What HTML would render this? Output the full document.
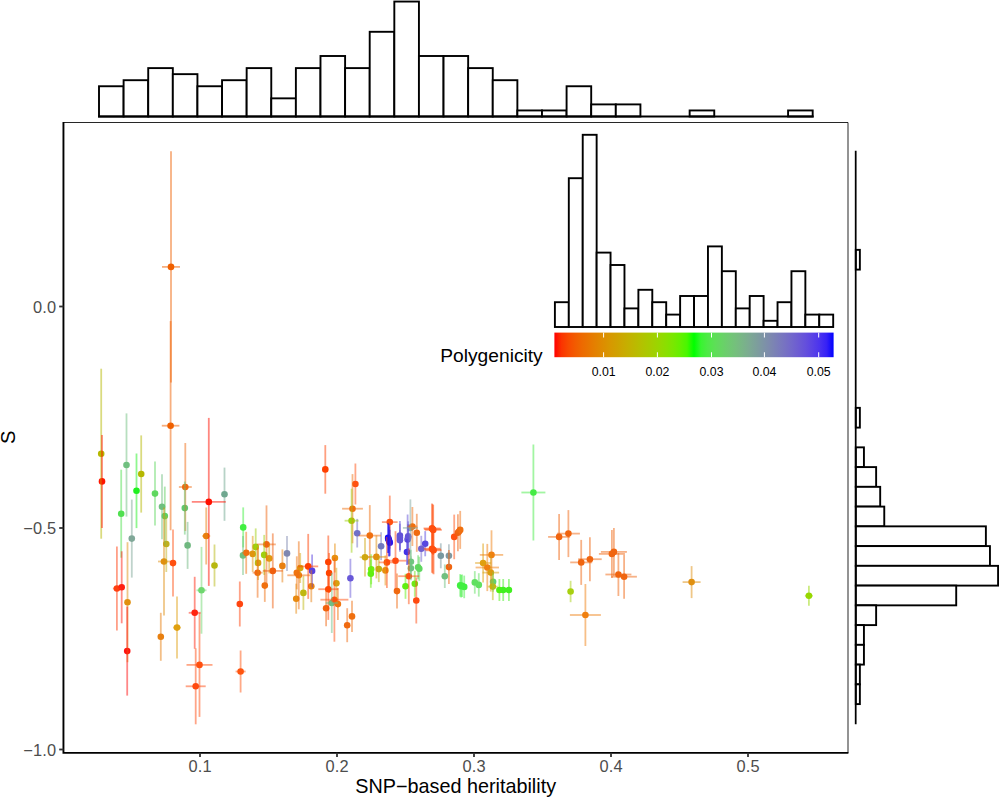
<!DOCTYPE html>
<html><head><meta charset="utf-8"><title>S vs SNP-based heritability</title>
<style>
html,body{margin:0;padding:0;background:#fff;}
body{width:999px;height:798px;overflow:hidden;}
svg{display:block;}
svg text{font-family:"Liberation Sans",sans-serif;}
</style></head><body>
<svg width="999" height="798" viewBox="0 0 999 798">
<defs><linearGradient id="cb" x1="0" x2="1" y1="0" y2="0">
<stop offset="0.00%" stop-color="#FF0000"/>
<stop offset="2.50%" stop-color="#FB3300"/>
<stop offset="5.00%" stop-color="#F74A00"/>
<stop offset="7.50%" stop-color="#F25B00"/>
<stop offset="10.00%" stop-color="#ED6A00"/>
<stop offset="12.50%" stop-color="#E87600"/>
<stop offset="15.00%" stop-color="#E38200"/>
<stop offset="17.50%" stop-color="#DD8D00"/>
<stop offset="20.00%" stop-color="#D79800"/>
<stop offset="22.50%" stop-color="#D0A100"/>
<stop offset="25.00%" stop-color="#C9AB00"/>
<stop offset="27.50%" stop-color="#C1B400"/>
<stop offset="30.00%" stop-color="#B8BD00"/>
<stop offset="32.50%" stop-color="#AEC600"/>
<stop offset="35.00%" stop-color="#A4CE00"/>
<stop offset="37.50%" stop-color="#98D700"/>
<stop offset="40.00%" stop-color="#8ADF00"/>
<stop offset="42.50%" stop-color="#7AE700"/>
<stop offset="45.00%" stop-color="#65EF00"/>
<stop offset="47.50%" stop-color="#49F700"/>
<stop offset="50.00%" stop-color="#00FF00"/>
<stop offset="52.50%" stop-color="#39F431"/>
<stop offset="55.00%" stop-color="#4FE947"/>
<stop offset="57.50%" stop-color="#5DDF57"/>
<stop offset="60.00%" stop-color="#67D465"/>
<stop offset="62.50%" stop-color="#6FC972"/>
<stop offset="65.00%" stop-color="#75BF7D"/>
<stop offset="67.50%" stop-color="#79B488"/>
<stop offset="70.00%" stop-color="#7CA993"/>
<stop offset="72.50%" stop-color="#7D9E9C"/>
<stop offset="75.00%" stop-color="#7D93A6"/>
<stop offset="77.50%" stop-color="#7D88AF"/>
<stop offset="80.00%" stop-color="#7A7DB9"/>
<stop offset="82.50%" stop-color="#7772C2"/>
<stop offset="85.00%" stop-color="#7267CB"/>
<stop offset="87.50%" stop-color="#6C5BD3"/>
<stop offset="90.00%" stop-color="#644FDC"/>
<stop offset="92.50%" stop-color="#5941E5"/>
<stop offset="95.00%" stop-color="#4B33EE"/>
<stop offset="97.50%" stop-color="#3621F6"/>
<stop offset="100.00%" stop-color="#0000FF"/>
</linearGradient></defs>
<rect width="999" height="798" fill="#fff"/>
<g fill="#fff" stroke="#000" stroke-width="1.9" stroke-linejoin="miter">
<rect x="99.00" y="86.25" width="24.61" height="30.25"/>
<rect x="123.61" y="80.20" width="24.61" height="36.30"/>
<rect x="148.22" y="68.10" width="24.61" height="48.40"/>
<rect x="172.83" y="74.15" width="24.61" height="42.35"/>
<rect x="197.44" y="86.25" width="24.61" height="30.25"/>
<rect x="222.05" y="80.20" width="24.61" height="36.30"/>
<rect x="246.66" y="68.10" width="24.61" height="48.40"/>
<rect x="271.27" y="98.35" width="24.61" height="18.15"/>
<rect x="295.88" y="68.10" width="24.61" height="48.40"/>
<rect x="320.49" y="56.00" width="24.61" height="60.50"/>
<rect x="345.10" y="68.10" width="24.61" height="48.40"/>
<rect x="369.71" y="31.80" width="24.61" height="84.70"/>
<rect x="394.32" y="1.55" width="24.61" height="114.95"/>
<rect x="418.93" y="56.00" width="24.61" height="60.50"/>
<rect x="443.54" y="56.00" width="24.61" height="60.50"/>
<rect x="468.15" y="68.10" width="24.61" height="48.40"/>
<rect x="492.76" y="80.20" width="24.61" height="36.30"/>
<rect x="517.37" y="110.45" width="24.61" height="6.05"/>
<rect x="541.98" y="110.45" width="24.61" height="6.05"/>
<rect x="566.59" y="86.25" width="24.61" height="30.25"/>
<rect x="591.20" y="104.40" width="24.61" height="12.10"/>
<rect x="615.81" y="104.40" width="24.61" height="12.10"/>
<rect x="640.42" y="116.50" width="24.61" height="0.00"/>
<rect x="665.03" y="116.50" width="24.61" height="0.00"/>
<rect x="689.64" y="110.45" width="24.61" height="6.05"/>
<rect x="714.25" y="116.50" width="24.61" height="0.00"/>
<rect x="738.86" y="116.50" width="24.61" height="0.00"/>
<rect x="763.47" y="116.50" width="24.61" height="0.00"/>
<rect x="788.08" y="110.45" width="24.61" height="6.05"/>
<path d="M98.05 116.5H813.64"/>
</g>
<g fill="#fff" stroke="#000" stroke-width="1.9">
<rect x="855.80" y="151.10" width="0.00" height="19.75"/>
<rect x="855.80" y="170.85" width="0.00" height="19.75"/>
<rect x="855.80" y="190.60" width="0.00" height="19.75"/>
<rect x="855.80" y="210.35" width="0.00" height="19.75"/>
<rect x="855.80" y="230.10" width="0.00" height="19.75"/>
<rect x="855.80" y="249.85" width="4.07" height="19.75"/>
<rect x="855.80" y="269.60" width="0.00" height="19.75"/>
<rect x="855.80" y="289.35" width="0.00" height="19.75"/>
<rect x="855.80" y="309.10" width="0.00" height="19.75"/>
<rect x="855.80" y="328.85" width="0.00" height="19.75"/>
<rect x="855.80" y="348.60" width="0.00" height="19.75"/>
<rect x="855.80" y="368.35" width="0.00" height="19.75"/>
<rect x="855.80" y="388.10" width="0.00" height="19.75"/>
<rect x="855.80" y="407.85" width="4.07" height="19.75"/>
<rect x="855.80" y="427.60" width="0.00" height="19.75"/>
<rect x="855.80" y="447.35" width="8.13" height="19.75"/>
<rect x="855.80" y="467.10" width="20.33" height="19.75"/>
<rect x="855.80" y="486.85" width="24.39" height="19.75"/>
<rect x="855.80" y="506.60" width="28.46" height="19.75"/>
<rect x="855.80" y="526.35" width="130.08" height="19.75"/>
<rect x="855.80" y="546.10" width="134.15" height="19.75"/>
<rect x="855.80" y="565.85" width="142.28" height="19.75"/>
<rect x="855.80" y="585.60" width="100.41" height="19.75"/>
<rect x="855.80" y="605.35" width="20.33" height="19.75"/>
<rect x="855.80" y="625.10" width="8.13" height="19.75"/>
<rect x="855.80" y="644.85" width="8.13" height="19.75"/>
<rect x="855.80" y="664.60" width="4.07" height="19.75"/>
<rect x="855.80" y="684.35" width="4.07" height="19.75"/>
<rect x="855.80" y="704.10" width="0.00" height="19.75"/>
<path d="M855.6999999999999 150.80V724.15" stroke-width="1.75"/>
</g>
<g fill="#fff" stroke="#000" stroke-width="1.9">
<rect x="554.90" y="302.20" width="13.91" height="24.80"/>
<rect x="568.81" y="178.20" width="13.91" height="148.80"/>
<rect x="582.73" y="134.80" width="13.91" height="192.20"/>
<rect x="596.64" y="252.60" width="13.91" height="74.40"/>
<rect x="610.56" y="265.00" width="13.91" height="62.00"/>
<rect x="624.47" y="308.40" width="13.91" height="18.60"/>
<rect x="638.39" y="289.80" width="13.91" height="37.20"/>
<rect x="652.30" y="302.20" width="13.91" height="24.80"/>
<rect x="666.22" y="314.60" width="13.91" height="12.40"/>
<rect x="680.13" y="296.00" width="13.91" height="31.00"/>
<rect x="694.05" y="296.00" width="13.91" height="31.00"/>
<rect x="707.96" y="246.40" width="13.91" height="80.60"/>
<rect x="721.88" y="271.20" width="13.91" height="55.80"/>
<rect x="735.79" y="308.40" width="13.91" height="18.60"/>
<rect x="749.71" y="296.00" width="13.91" height="31.00"/>
<rect x="763.62" y="320.80" width="13.91" height="6.20"/>
<rect x="777.54" y="302.20" width="13.91" height="24.80"/>
<rect x="791.45" y="271.20" width="13.91" height="55.80"/>
<rect x="805.37" y="314.60" width="13.91" height="12.40"/>
<rect x="819.28" y="314.60" width="13.91" height="12.40"/>
</g>
<rect x="554.4" y="332.6" width="279.20" height="24.60" fill="url(#cb)"/>
<path d="M603.6 332.6V337.52M603.6 357.2V352.28" stroke="#fff" stroke-width="1"/>
<text x="603.6" y="376.3" font-size="12.3" text-anchor="middle" fill="#000">0.01</text>
<path d="M657.4 332.6V337.52M657.4 357.2V352.28" stroke="#fff" stroke-width="1"/>
<text x="657.4" y="376.3" font-size="12.3" text-anchor="middle" fill="#000">0.02</text>
<path d="M711.5 332.6V337.52M711.5 357.2V352.28" stroke="#fff" stroke-width="1"/>
<text x="711.5" y="376.3" font-size="12.3" text-anchor="middle" fill="#000">0.03</text>
<path d="M764.4 332.6V337.52M764.4 357.2V352.28" stroke="#fff" stroke-width="1"/>
<text x="764.4" y="376.3" font-size="12.3" text-anchor="middle" fill="#000">0.04</text>
<path d="M818.7 332.6V337.52M818.7 357.2V352.28" stroke="#fff" stroke-width="1"/>
<text x="818.7" y="376.3" font-size="12.3" text-anchor="middle" fill="#000">0.05</text>
<text x="440.3" y="362" font-size="19.2" fill="#000">Polygenicity</text>
<g>
<circle cx="101.2" cy="453.7" r="3.3" fill="#B5B800"/>
<circle cx="102.0" cy="481.4" r="3.3" fill="#FF1500"/>
<circle cx="126.5" cy="465.0" r="3.3" fill="#70C080"/>
<circle cx="141.2" cy="474.0" r="3.3" fill="#B5B800"/>
<circle cx="136.5" cy="490.8" r="3.3" fill="#20F020"/>
<circle cx="121.2" cy="513.7" r="3.3" fill="#50E050"/>
<circle cx="155.0" cy="493.6" r="3.3" fill="#60D860"/>
<circle cx="170.6" cy="425.7" r="3.3" fill="#F06000"/>
<circle cx="162.0" cy="506.7" r="3.3" fill="#70C080"/>
<circle cx="164.8" cy="516.1" r="3.3" fill="#60D060"/>
<circle cx="185.3" cy="487.0" r="3.3" fill="#F06A10"/>
<circle cx="184.8" cy="508.1" r="3.3" fill="#60C870"/>
<circle cx="208.8" cy="501.9" r="3.3" fill="#FF1000"/>
<circle cx="224.5" cy="494.2" r="3.3" fill="#70A890"/>
<circle cx="171.0" cy="266.9" r="3.3" fill="#F06000"/>
<circle cx="131.8" cy="538.6" r="3.3" fill="#80A898"/>
<circle cx="166.3" cy="544.0" r="3.3" fill="#C0B020"/>
<circle cx="164.0" cy="561.5" r="3.3" fill="#E09010"/>
<circle cx="173.0" cy="563.1" r="3.3" fill="#FF5010"/>
<circle cx="187.6" cy="545.4" r="3.3" fill="#70B880"/>
<circle cx="206.2" cy="536.0" r="3.3" fill="#E88010"/>
<circle cx="214.5" cy="565.5" r="3.3" fill="#B8B810"/>
<circle cx="243.2" cy="527.4" r="3.3" fill="#40F040"/>
<circle cx="243.0" cy="555.4" r="3.3" fill="#70C080"/>
<circle cx="246.2" cy="552.8" r="3.3" fill="#F07010"/>
<circle cx="116.9" cy="588.5" r="3.3" fill="#FF4010"/>
<circle cx="121.7" cy="587.3" r="3.3" fill="#FF2010"/>
<circle cx="127.5" cy="602.2" r="3.3" fill="#E09010"/>
<circle cx="127.2" cy="651.1" r="3.3" fill="#FF1010"/>
<circle cx="201.5" cy="590.3" r="3.3" fill="#70D870"/>
<circle cx="194.7" cy="612.8" r="3.3" fill="#FF2510"/>
<circle cx="177.0" cy="627.6" r="3.3" fill="#E0A010"/>
<circle cx="160.8" cy="636.8" r="3.3" fill="#E88010"/>
<circle cx="239.8" cy="604.0" r="3.3" fill="#FF4510"/>
<circle cx="199.5" cy="664.9" r="3.3" fill="#FF5010"/>
<circle cx="195.7" cy="686.3" r="3.3" fill="#FF4A10"/>
<circle cx="240.6" cy="671.5" r="3.3" fill="#FF5510"/>
<circle cx="325.3" cy="469.4" r="3.3" fill="#FF4000"/>
<circle cx="355.4" cy="484.0" r="3.3" fill="#FF5010"/>
<circle cx="352.5" cy="508.7" r="3.3" fill="#F07010"/>
<circle cx="351.6" cy="520.7" r="3.3" fill="#A0D010"/>
<circle cx="252.7" cy="553.9" r="3.3" fill="#E09510"/>
<circle cx="255.7" cy="546.9" r="3.3" fill="#A0D010"/>
<circle cx="266.5" cy="544.4" r="3.3" fill="#F06510"/>
<circle cx="264.2" cy="554.9" r="3.3" fill="#A0D010"/>
<circle cx="258.1" cy="562.9" r="3.3" fill="#D8A010"/>
<circle cx="269.2" cy="558.4" r="3.3" fill="#E09A10"/>
<circle cx="257.6" cy="572.7" r="3.3" fill="#F06A10"/>
<circle cx="272.8" cy="570.9" r="3.3" fill="#F06010"/>
<circle cx="282.4" cy="565.9" r="3.3" fill="#E88010"/>
<circle cx="287.0" cy="553.4" r="3.3" fill="#8088B0"/>
<circle cx="300.2" cy="568.0" r="3.3" fill="#D8A810"/>
<circle cx="296.8" cy="572.8" r="3.3" fill="#F07510"/>
<circle cx="298.8" cy="575.3" r="3.3" fill="#F07010"/>
<circle cx="308.2" cy="566.4" r="3.3" fill="#FF4000"/>
<circle cx="312.1" cy="570.9" r="3.3" fill="#5840E0"/>
<circle cx="328.3" cy="562.0" r="3.3" fill="#FF4000"/>
<circle cx="329.1" cy="573.0" r="3.3" fill="#FF4500"/>
<circle cx="334.9" cy="558.0" r="3.3" fill="#E89010"/>
<circle cx="264.8" cy="585.6" r="3.3" fill="#F07010"/>
<circle cx="311.3" cy="586.2" r="3.3" fill="#E88010"/>
<circle cx="303.4" cy="592.9" r="3.3" fill="#C0B810"/>
<circle cx="296.2" cy="598.7" r="3.3" fill="#E88A10"/>
<circle cx="328.3" cy="589.2" r="3.3" fill="#FF4500"/>
<circle cx="336.4" cy="583.3" r="3.3" fill="#D8A010"/>
<circle cx="331.8" cy="603.0" r="3.3" fill="#70C088"/>
<circle cx="334.4" cy="599.7" r="3.3" fill="#FF5010"/>
<circle cx="337.9" cy="604.1" r="3.3" fill="#F07510"/>
<circle cx="326.1" cy="608.2" r="3.3" fill="#F06510"/>
<circle cx="357.2" cy="533.2" r="3.3" fill="#7070C8"/>
<circle cx="369.8" cy="535.6" r="3.3" fill="#F07010"/>
<circle cx="365.0" cy="557.2" r="3.3" fill="#D0A810"/>
<circle cx="376.4" cy="556.9" r="3.3" fill="#E09010"/>
<circle cx="371.2" cy="569.3" r="3.3" fill="#70F010"/>
<circle cx="370.8" cy="573.8" r="3.3" fill="#60F010"/>
<circle cx="378.8" cy="569.1" r="3.3" fill="#C0B010"/>
<circle cx="385.4" cy="570.4" r="3.3" fill="#E89010"/>
<circle cx="386.9" cy="562.4" r="3.3" fill="#FF5010"/>
<circle cx="395.5" cy="560.7" r="3.3" fill="#FF4A10"/>
<circle cx="350.4" cy="578.3" r="3.3" fill="#6858D8"/>
<circle cx="389.8" cy="522.1" r="3.3" fill="#FF5010"/>
<circle cx="381.1" cy="546.3" r="3.3" fill="#7078C0"/>
<circle cx="388.1" cy="537.9" r="3.3" fill="#1810F0"/>
<circle cx="389.8" cy="542.8" r="3.3" fill="#3018E8"/>
<circle cx="388.9" cy="540.3" r="3.3" fill="#2010F0"/>
<circle cx="399.9" cy="535.5" r="3.3" fill="#6050D8"/>
<circle cx="399.9" cy="540.3" r="3.3" fill="#6858D8"/>
<circle cx="408.2" cy="536.3" r="3.3" fill="#6858D8"/>
<circle cx="407.6" cy="539.5" r="3.3" fill="#6050D8"/>
<circle cx="407.0" cy="552.0" r="3.3" fill="#4030E8"/>
<circle cx="410.4" cy="527.9" r="3.3" fill="#80A8A0"/>
<circle cx="412.4" cy="526.5" r="3.3" fill="#F07010"/>
<circle cx="416.8" cy="532.8" r="3.3" fill="#F06A10"/>
<circle cx="410.9" cy="561.8" r="3.3" fill="#70C880"/>
<circle cx="410.9" cy="568.3" r="3.3" fill="#70C080"/>
<circle cx="418.1" cy="567.3" r="3.3" fill="#60D860"/>
<circle cx="419.3" cy="568.8" r="3.3" fill="#60D860"/>
<circle cx="408.8" cy="576.2" r="3.3" fill="#FF5010"/>
<circle cx="352.0" cy="616.4" r="3.3" fill="#F07010"/>
<circle cx="347.2" cy="625.2" r="3.3" fill="#F06A10"/>
<circle cx="397.0" cy="591.1" r="3.3" fill="#F06A10"/>
<circle cx="405.5" cy="586.3" r="3.3" fill="#60F010"/>
<circle cx="414.8" cy="583.8" r="3.3" fill="#70E818"/>
<circle cx="416.3" cy="600.5" r="3.3" fill="#FF4A10"/>
<circle cx="432.0" cy="528.4" r="3.3" fill="#FF5010"/>
<circle cx="433.2" cy="529.9" r="3.3" fill="#FF5010"/>
<circle cx="432.0" cy="548.7" r="3.3" fill="#FF5010"/>
<circle cx="433.6" cy="550.3" r="3.3" fill="#FF5010"/>
<circle cx="425.2" cy="543.7" r="3.3" fill="#5848E0"/>
<circle cx="421.3" cy="548.8" r="3.3" fill="#7060D0"/>
<circle cx="440.8" cy="555.8" r="3.3" fill="#7898A0"/>
<circle cx="448.9" cy="555.7" r="3.3" fill="#8098A0"/>
<circle cx="448.9" cy="567.1" r="3.3" fill="#F06510"/>
<circle cx="454.2" cy="536.9" r="3.3" fill="#FF5010"/>
<circle cx="457.9" cy="532.8" r="3.3" fill="#F06010"/>
<circle cx="459.0" cy="531.5" r="3.3" fill="#F06510"/>
<circle cx="460.2" cy="529.9" r="3.3" fill="#F07010"/>
<circle cx="491.5" cy="554.9" r="3.3" fill="#F08010"/>
<circle cx="483.1" cy="563.0" r="3.3" fill="#E0A010"/>
<circle cx="487.3" cy="567.5" r="3.3" fill="#F08010"/>
<circle cx="490.8" cy="572.6" r="3.3" fill="#D8A010"/>
<circle cx="493.1" cy="581.7" r="3.3" fill="#60D070"/>
<circle cx="492.8" cy="586.6" r="3.3" fill="#C0B810"/>
<circle cx="499.4" cy="590.0" r="3.3" fill="#50F010"/>
<circle cx="444.8" cy="576.2" r="3.3" fill="#70C080"/>
<circle cx="460.2" cy="585.4" r="3.3" fill="#40F040"/>
<circle cx="462.1" cy="585.8" r="3.3" fill="#40F040"/>
<circle cx="464.2" cy="586.9" r="3.3" fill="#40F040"/>
<circle cx="474.8" cy="582.4" r="3.3" fill="#60E060"/>
<circle cx="478.8" cy="584.9" r="3.3" fill="#60E060"/>
<circle cx="503.2" cy="590.0" r="3.3" fill="#40F020"/>
<circle cx="508.9" cy="590.0" r="3.3" fill="#40F020"/>
<circle cx="533.4" cy="492.5" r="3.3" fill="#46EC46"/>
<circle cx="559.1" cy="536.9" r="3.3" fill="#F06510"/>
<circle cx="568.4" cy="533.6" r="3.3" fill="#F06510"/>
<circle cx="581.2" cy="562.4" r="3.3" fill="#F06510"/>
<circle cx="589.9" cy="559.2" r="3.3" fill="#F06510"/>
<circle cx="570.6" cy="591.5" r="3.3" fill="#A8D010"/>
<circle cx="585.4" cy="615.0" r="3.3" fill="#F08010"/>
<circle cx="611.9" cy="553.9" r="3.3" fill="#F06510"/>
<circle cx="613.9" cy="551.9" r="3.3" fill="#F06510"/>
<circle cx="618.4" cy="574.5" r="3.3" fill="#F06510"/>
<circle cx="624.1" cy="576.7" r="3.3" fill="#F06510"/>
<circle cx="691.6" cy="582.1" r="3.3" fill="#E09010"/>
<circle cx="808.9" cy="595.8" r="3.3" fill="#97D800"/>
<circle cx="388.4" cy="538.9" r="3.3" fill="#2010F0"/>
<circle cx="389.3" cy="541.5" r="3.3" fill="#2818EC"/>
<circle cx="399.9" cy="537.8" r="3.3" fill="#6454D8"/>
<circle cx="408.1" cy="537.9" r="3.3" fill="#6454D8"/>
<circle cx="432.6" cy="529.1" r="3.3" fill="#FF5010"/>
<circle cx="432.8" cy="549.5" r="3.3" fill="#FF5010"/>
<circle cx="461.1" cy="586.2" r="3.3" fill="#40F040"/>
</g>
<g stroke-width="1.8" stroke-opacity="0.5" fill="none">
<path d="M101.2 368.7V538.7" stroke="#B5B800"/>
<path d="M102.0 434.9V527.9" stroke="#FF1500"/>
<path d="M126.5 413.4V516.6" stroke="#70C080"/>
<path d="M141.2 435.4V512.6" stroke="#B5B800"/>
<path d="M136.5 453.5V528.1" stroke="#20F020"/>
<path d="M121.2 469.7V557.7" stroke="#50E050"/>
<path d="M155.0 461.6V525.6" stroke="#60D860"/>
<path d="M170.6 321.1V530.3" stroke="#F06000"/>
<path d="M162.0 474.2V539.2" stroke="#70C080"/>
<path d="M164.8 486.6V545.6" stroke="#60D060"/>
<path d="M185.3 443.0V531.0" stroke="#F06A10"/>
<path d="M184.8 481.6V534.6" stroke="#60C870"/>
<path d="M208.8 417.9V585.9" stroke="#FF1000"/>
<path d="M224.5 467.6V520.8" stroke="#70A890"/>
<path d="M171.0 151.2V382.6" stroke="#F06000"/>
<path d="M131.8 499.6V577.6" stroke="#80A898"/>
<path d="M166.3 516.0V572.0" stroke="#C0B020"/>
<path d="M164.0 507.5V615.5" stroke="#E09010"/>
<path d="M173.0 529.6V596.6" stroke="#FF5010"/>
<path d="M187.6 521.9V568.9" stroke="#70B880"/>
<path d="M206.2 507.5V564.5" stroke="#E88010"/>
<path d="M214.5 544.5V586.5" stroke="#B8B810"/>
<path d="M243.2 507.4V547.4" stroke="#40F040"/>
<path d="M243.0 535.9V574.9" stroke="#70C080"/>
<path d="M246.2 531.8V573.8" stroke="#F07010"/>
<path d="M116.9 546.5V630.5" stroke="#FF4010"/>
<path d="M121.7 551.3V623.3" stroke="#FF2010"/>
<path d="M127.5 542.2V662.2" stroke="#E09010"/>
<path d="M127.2 606.6V695.6" stroke="#FF1010"/>
<path d="M201.5 546.9V633.7" stroke="#70D870"/>
<path d="M194.7 576.8V648.8" stroke="#FF2510"/>
<path d="M177.0 596.6V658.6" stroke="#E0A010"/>
<path d="M160.8 612.8V660.8" stroke="#E88010"/>
<path d="M239.8 581.5V626.5" stroke="#FF4510"/>
<path d="M199.5 612.9V716.9" stroke="#FF5010"/>
<path d="M195.7 648.3V724.3" stroke="#FF4A10"/>
<path d="M240.6 650.5V692.5" stroke="#FF5510"/>
<path d="M325.3 445.1V493.7" stroke="#FF4000"/>
<path d="M355.4 463.5V504.5" stroke="#FF5010"/>
<path d="M352.5 474.1V543.3" stroke="#F07010"/>
<path d="M351.6 488.7V552.7" stroke="#A0D010"/>
<path d="M252.7 535.9V571.9" stroke="#E09510"/>
<path d="M255.7 528.4V565.4" stroke="#A0D010"/>
<path d="M266.5 505.4V583.4" stroke="#F06510"/>
<path d="M264.2 534.9V574.9" stroke="#A0D010"/>
<path d="M258.1 545.9V579.9" stroke="#D8A010"/>
<path d="M269.2 543.4V573.4" stroke="#E09A10"/>
<path d="M257.6 547.7V597.7" stroke="#F06A10"/>
<path d="M272.8 533.4V608.4" stroke="#F06010"/>
<path d="M282.4 549.4V582.4" stroke="#E88010"/>
<path d="M287.0 535.9V570.9" stroke="#8088B0"/>
<path d="M300.2 553.0V583.0" stroke="#D8A810"/>
<path d="M296.8 556.3V589.3" stroke="#F07510"/>
<path d="M298.8 541.3V609.3" stroke="#F07010"/>
<path d="M308.2 533.9V598.9" stroke="#FF4000"/>
<path d="M312.1 554.4V587.4" stroke="#5840E0"/>
<path d="M328.3 535.5V588.5" stroke="#FF4000"/>
<path d="M329.1 553.0V593.0" stroke="#FF4500"/>
<path d="M334.9 543.5V572.5" stroke="#E89010"/>
<path d="M264.8 569.3V601.9" stroke="#F07010"/>
<path d="M311.3 570.2V602.2" stroke="#E88010"/>
<path d="M303.4 575.9V609.9" stroke="#C0B810"/>
<path d="M296.2 583.7V613.7" stroke="#E88A10"/>
<path d="M328.3 558.5V619.9" stroke="#FF4500"/>
<path d="M336.4 567.8V598.8" stroke="#D8A010"/>
<path d="M331.8 573.0V633.0" stroke="#70C088"/>
<path d="M334.4 557.7V641.7" stroke="#FF5010"/>
<path d="M337.9 588.1V620.1" stroke="#F07510"/>
<path d="M326.1 590.2V626.2" stroke="#F06510"/>
<path d="M357.2 518.9V547.5" stroke="#7070C8"/>
<path d="M369.8 505.1V566.1" stroke="#F07010"/>
<path d="M365.0 537.9V576.5" stroke="#D0A810"/>
<path d="M376.4 535.4V578.4" stroke="#E09010"/>
<path d="M371.2 554.3V584.3" stroke="#70F010"/>
<path d="M370.8 559.8V587.8" stroke="#60F010"/>
<path d="M378.8 556.1V582.1" stroke="#C0B010"/>
<path d="M385.4 555.4V585.4" stroke="#E89010"/>
<path d="M386.9 536.9V587.9" stroke="#FF5010"/>
<path d="M395.5 531.2V590.2" stroke="#FF4A10"/>
<path d="M350.4 558.8V597.8" stroke="#6858D8"/>
<path d="M389.8 495.6V548.6" stroke="#FF5010"/>
<path d="M381.1 532.3V560.3" stroke="#7078C0"/>
<path d="M388.1 522.9V552.9" stroke="#1810F0"/>
<path d="M389.8 529.8V555.8" stroke="#3018E8"/>
<path d="M388.9 524.3V556.3" stroke="#2010F0"/>
<path d="M399.9 521.0V550.0" stroke="#6050D8"/>
<path d="M399.9 530.3V550.3" stroke="#6858D8"/>
<path d="M408.2 521.3V551.3" stroke="#6858D8"/>
<path d="M407.6 514.5V564.5" stroke="#6050D8"/>
<path d="M407.0 539.0V565.0" stroke="#4030E8"/>
<path d="M410.4 499.4V556.4" stroke="#80A8A0"/>
<path d="M412.4 507.0V546.0" stroke="#F07010"/>
<path d="M416.8 513.8V551.8" stroke="#F06A10"/>
<path d="M410.9 549.8V573.8" stroke="#70C880"/>
<path d="M410.9 556.3V580.3" stroke="#70C080"/>
<path d="M418.1 555.3V579.3" stroke="#60D860"/>
<path d="M419.3 556.8V580.8" stroke="#60D860"/>
<path d="M408.8 548.2V604.2" stroke="#FF5010"/>
<path d="M352.0 600.7V632.1" stroke="#F07010"/>
<path d="M347.2 608.2V642.2" stroke="#F06A10"/>
<path d="M397.0 573.6V608.6" stroke="#F06A10"/>
<path d="M405.5 573.8V598.8" stroke="#60F010"/>
<path d="M414.8 570.8V596.8" stroke="#70E818"/>
<path d="M416.3 577.5V623.5" stroke="#FF4A10"/>
<path d="M432.0 503.4V553.4" stroke="#FF5010"/>
<path d="M433.2 504.9V554.9" stroke="#FF5010"/>
<path d="M432.0 524.7V572.7" stroke="#FF5010"/>
<path d="M433.6 526.3V574.3" stroke="#FF5010"/>
<path d="M425.2 531.1V556.3" stroke="#5848E0"/>
<path d="M421.3 535.8V561.8" stroke="#7060D0"/>
<path d="M440.8 543.3V568.3" stroke="#7898A0"/>
<path d="M448.9 544.2V567.2" stroke="#8098A0"/>
<path d="M448.9 550.1V584.1" stroke="#F06510"/>
<path d="M454.2 514.6V559.2" stroke="#FF5010"/>
<path d="M457.9 514.3V551.3" stroke="#F06010"/>
<path d="M460.2 510.9V548.9" stroke="#F07010"/>
<path d="M491.5 530.3V579.5" stroke="#F08010"/>
<path d="M483.1 543.5V582.5" stroke="#E0A010"/>
<path d="M487.3 543.9V591.1" stroke="#F08010"/>
<path d="M490.8 553.6V591.6" stroke="#D8A010"/>
<path d="M493.1 571.7V591.7" stroke="#60D070"/>
<path d="M492.8 573.1V600.1" stroke="#C0B810"/>
<path d="M499.4 579.0V601.0" stroke="#50F010"/>
<path d="M444.8 564.4V588.0" stroke="#70C080"/>
<path d="M460.2 574.1V596.7" stroke="#40F040"/>
<path d="M462.1 574.5V597.1" stroke="#40F040"/>
<path d="M464.2 575.6V598.2" stroke="#40F040"/>
<path d="M474.8 571.1V593.7" stroke="#60E060"/>
<path d="M478.8 573.2V596.6" stroke="#60E060"/>
<path d="M503.2 579.0V601.0" stroke="#40F020"/>
<path d="M508.9 579.0V601.0" stroke="#40F020"/>
<path d="M533.4 444.5V540.5" stroke="#46EC46"/>
<path d="M559.1 513.9V559.9" stroke="#F06510"/>
<path d="M568.4 510.1V557.1" stroke="#F06510"/>
<path d="M581.2 539.9V584.9" stroke="#F06510"/>
<path d="M589.9 537.2V581.2" stroke="#F06510"/>
<path d="M570.6 580.8V602.2" stroke="#A8D010"/>
<path d="M585.4 584.0V646.0" stroke="#F08010"/>
<path d="M611.9 529.9V577.9" stroke="#F06510"/>
<path d="M613.9 527.9V575.9" stroke="#F06510"/>
<path d="M618.4 553.0V596.0" stroke="#F06510"/>
<path d="M624.1 554.7V598.7" stroke="#F06510"/>
<path d="M691.6 566.1V598.1" stroke="#E09010"/>
<path d="M808.9 585.8V605.8" stroke="#97D800"/>
<path d="M388.4 524.9V552.9" stroke="#2010F0"/>
<path d="M389.3 526.5V556.5" stroke="#2818EC"/>
<path d="M399.9 523.8V551.8" stroke="#6454D8"/>
<path d="M408.1 523.9V551.9" stroke="#6454D8"/>
<path d="M432.6 504.1V554.1" stroke="#FF5010"/>
<path d="M432.8 525.5V573.5" stroke="#FF5010"/>
<path d="M461.1 574.9V597.5" stroke="#40F040"/>
</g>
<g stroke-width="1.8" stroke-opacity="0.5" fill="none">
<path d="M161.8 425.7H179.4" stroke="#F06000"/>
<path d="M178.9 487.0H191.8" stroke="#F06A10"/>
<path d="M191.8 501.9H225.8" stroke="#FF1000"/>
<path d="M162.0 266.9H180.0" stroke="#F06000"/>
<path d="M158.0 561.5H170.0" stroke="#E09010"/>
<path d="M202.2 536.0H210.2" stroke="#E88010"/>
<path d="M242.2 552.8H250.2" stroke="#F07010"/>
<path d="M112.9 588.5H120.9" stroke="#FF4010"/>
<path d="M196.5 590.3H206.5" stroke="#70D870"/>
<path d="M188.7 612.8H200.7" stroke="#FF2510"/>
<path d="M173.0 627.6H181.0" stroke="#E0A010"/>
<path d="M186.5 664.9H212.5" stroke="#FF5010"/>
<path d="M185.7 686.3H205.7" stroke="#FF4A10"/>
<path d="M235.6 671.5H245.6" stroke="#FF5510"/>
<path d="M342.1 508.7H362.9" stroke="#F07010"/>
<path d="M344.6 520.7H358.6" stroke="#A0D010"/>
<path d="M257.2 544.4H275.8" stroke="#F06510"/>
<path d="M252.6 572.7H262.6" stroke="#F06A10"/>
<path d="M262.8 570.9H282.8" stroke="#F06010"/>
<path d="M287.3 575.3H310.3" stroke="#F07010"/>
<path d="M298.2 566.4H318.2" stroke="#FF4000"/>
<path d="M318.3 589.2H338.3" stroke="#FF4500"/>
<path d="M325.8 603.0H337.8" stroke="#70C088"/>
<path d="M320.4 599.7H348.4" stroke="#FF5010"/>
<path d="M358.8 535.6H380.8" stroke="#F07010"/>
<path d="M359.7 557.2H370.3" stroke="#D0A810"/>
<path d="M367.1 556.9H385.8" stroke="#E09010"/>
<path d="M378.9 562.4H394.9" stroke="#FF5010"/>
<path d="M384.5 560.7H406.5" stroke="#FF4A10"/>
<path d="M381.9 522.1H397.6" stroke="#FF5010"/>
<path d="M402.9 527.9H417.9" stroke="#80A8A0"/>
<path d="M407.4 526.5H417.4" stroke="#F07010"/>
<path d="M398.2 576.2H419.2" stroke="#FF5010"/>
<path d="M423.5 528.4H440.5" stroke="#FF5010"/>
<path d="M424.8 529.9H441.8" stroke="#FF5010"/>
<path d="M423.7 548.7H440.3" stroke="#FF5010"/>
<path d="M425.6 550.3H441.6" stroke="#FF5010"/>
<path d="M479.8 554.9H503.2" stroke="#F08010"/>
<path d="M475.1 563.0H491.1" stroke="#E0A010"/>
<path d="M475.6 567.5H499.0" stroke="#F08010"/>
<path d="M482.5 572.6H499.1" stroke="#D8A010"/>
<path d="M487.8 586.6H497.8" stroke="#C0B810"/>
<path d="M521.4 492.5H545.4" stroke="#46EC46"/>
<path d="M548.1 536.9H570.1" stroke="#F06510"/>
<path d="M556.9 533.6H579.9" stroke="#F06510"/>
<path d="M570.2 562.4H592.2" stroke="#F06510"/>
<path d="M578.1 559.2H601.7" stroke="#F06510"/>
<path d="M569.9 615.0H600.9" stroke="#F08010"/>
<path d="M598.9 553.9H624.9" stroke="#F06510"/>
<path d="M600.9 551.9H626.9" stroke="#F06510"/>
<path d="M605.4 574.5H631.4" stroke="#F06510"/>
<path d="M611.4 576.7H636.9" stroke="#F06510"/>
<path d="M682.6 582.1H700.6" stroke="#E09010"/>
<path d="M804.9 595.8H812.9" stroke="#97D800"/>
<path d="M424.1 529.1H441.1" stroke="#FF5010"/>
<path d="M424.6 549.5H441.0" stroke="#FF5010"/>
</g>
<path d="M63.45 122.5H848.0V752.85" fill="none" stroke="#000" stroke-width="0.85"/>
<path d="M63.45 122.1V752.85H848.4" fill="none" stroke="#000" stroke-width="1.9" stroke-linejoin="miter"/>
<path d="M59.2 306.5H63.45" stroke="#333" stroke-width="1.8"/>
<text x="56.4" y="312.6" font-size="16.4" letter-spacing="0.2" text-anchor="end" fill="#4D4D4D">0.0</text>
<path d="M59.2 528.0H63.45" stroke="#333" stroke-width="1.8"/>
<text x="56.4" y="534.1" font-size="16.4" letter-spacing="0.2" text-anchor="end" fill="#4D4D4D">−0.5</text>
<path d="M59.2 749.5H63.45" stroke="#333" stroke-width="1.8"/>
<text x="56.4" y="755.6" font-size="16.4" letter-spacing="0.2" text-anchor="end" fill="#4D4D4D">−1.0</text>
<path d="M200.0 752.85V757.0" stroke="#333" stroke-width="1.8"/>
<text x="200.1" y="771.9" font-size="16.4" letter-spacing="0.2" text-anchor="middle" fill="#4D4D4D">0.1</text>
<path d="M337.0 752.85V757.0" stroke="#333" stroke-width="1.8"/>
<text x="337.1" y="771.9" font-size="16.4" letter-spacing="0.2" text-anchor="middle" fill="#4D4D4D">0.2</text>
<path d="M474.0 752.85V757.0" stroke="#333" stroke-width="1.8"/>
<text x="474.1" y="771.9" font-size="16.4" letter-spacing="0.2" text-anchor="middle" fill="#4D4D4D">0.3</text>
<path d="M611.0 752.85V757.0" stroke="#333" stroke-width="1.8"/>
<text x="611.1" y="771.9" font-size="16.4" letter-spacing="0.2" text-anchor="middle" fill="#4D4D4D">0.4</text>
<path d="M748.0 752.85V757.0" stroke="#333" stroke-width="1.8"/>
<text x="748.1" y="771.9" font-size="16.4" letter-spacing="0.2" text-anchor="middle" fill="#4D4D4D">0.5</text>
<text x="455.7" y="792.6" font-size="19.8" text-anchor="middle" fill="#000">SNP−based heritability</text>
<text transform="translate(14.9,437.3) rotate(-90)" font-size="20.2" text-anchor="middle" fill="#000">S</text>
</svg>
</body></html>
